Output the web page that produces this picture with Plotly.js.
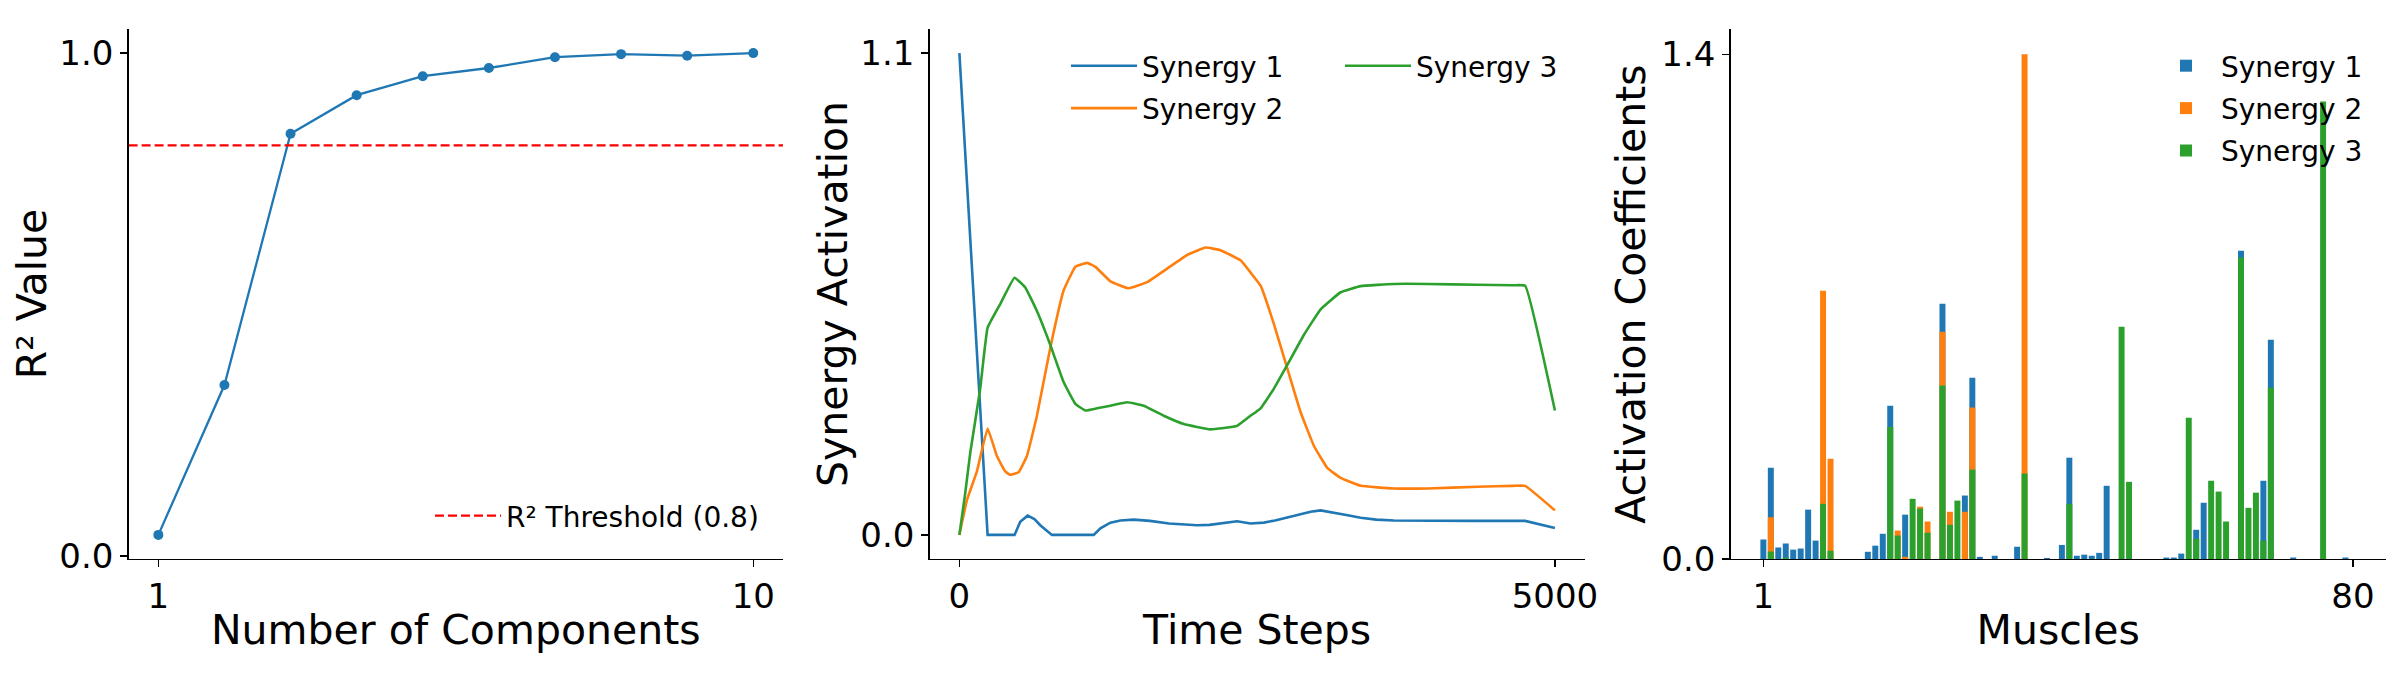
<!DOCTYPE html>
<html><head><meta charset="utf-8">
<script src="https://cdn.plot.ly/plotly-3.0.1.min.js"></script>
<style>html,body{margin:0;padding:0;background:#fff}#chart{width:2400px;height:700px}</style>
</head><body><div id="chart"></div>
<script>
// ---------- Panel 1: R² vs number of components ----------
const components = [1, 2, 3, 4, 5, 6, 7, 8, 9, 10];
const r2Values = [0.041, 0.333, 0.823, 0.898, 0.935, 0.951, 0.972, 0.978, 0.975, 0.980];
const r2Threshold = 0.8;
const thresholdLabel = 'R² Threshold (0.8)';

// ---------- Panel 2: synergy activation over time ----------
const syn1Time = [0, 237, 463, 511, 573, 630, 679, 735, 777, 1128, 1184, 1268, 1352, 1464, 1600, 1760, 1900, 1996, 2100, 2164, 2250, 2332, 2444, 2557, 2650, 2725, 2837, 2949, 3033, 3145, 3260, 3369, 3500, 3649, 3930, 4300, 4750, 5000];
const syn1Value = [1.10, 0, 0, 0.030, 0.044, 0.036, 0.022, 0.010, 0, 0, 0.015, 0.028, 0.033, 0.035, 0.032, 0.026, 0.023, 0.022, 0.023, 0.025, 0.028, 0.031, 0.026, 0.028, 0.033, 0.038, 0.045, 0.053, 0.056, 0.051, 0.045, 0.039, 0.035, 0.033, 0.032, 0.032, 0.032, 0.016];
const syn2Time = [0, 63, 147, 237, 315, 385, 427, 497, 567, 651, 763, 875, 974, 1072, 1142, 1268, 1422, 1576, 1744, 1912, 2066, 2192, 2361, 2473, 2529, 2641, 2753, 2865, 2977, 3089, 3201, 3369, 3649, 3930, 4350, 4650, 4750, 5000];
const syn2Value = [0, 0.079, 0.145, 0.243, 0.180, 0.145, 0.137, 0.143, 0.180, 0.272, 0.427, 0.558, 0.612, 0.621, 0.612, 0.579, 0.563, 0.577, 0.608, 0.639, 0.656, 0.650, 0.627, 0.589, 0.569, 0.481, 0.380, 0.280, 0.203, 0.153, 0.130, 0.112, 0.106, 0.106, 0.110, 0.112, 0.112, 0.056];
const syn3Time = [0, 49, 91, 175, 237, 343, 463, 553, 651, 763, 875, 974, 1058, 1156, 1268, 1408, 1548, 1716, 1884, 2108, 2332, 2444, 2529, 2641, 2753, 2893, 3033, 3201, 3369, 3649, 3930, 4350, 4650, 4750, 5000];
const syn3Value = [0, 0.095, 0.187, 0.334, 0.473, 0.527, 0.587, 0.565, 0.511, 0.434, 0.349, 0.299, 0.284, 0.289, 0.295, 0.303, 0.295, 0.272, 0.253, 0.241, 0.249, 0.272, 0.289, 0.334, 0.388, 0.457, 0.515, 0.554, 0.568, 0.573, 0.573, 0.571, 0.570, 0.569, 0.284];

// ---------- Panel 3: activation coefficients per muscle (overlaid bars) ----------
const muscles = Array.from({length: 80}, (_, i) => i + 1);
const coefSyn1 = [0.054,0.253,0.032,0.043,0.026,0.029,0.137,0.051,0,0,
                  0,0,0,0,0.020,0.037,0.070,0.425,0,0.123,
                  0,0,0,0,0.708,0,0,0.176,0.503,0.006,
                  0,0.009,0,0,0.034,0,0,0,0.003,0,
                  0.039,0.281,0.009,0.012,0.009,0.017,0.203,0,0,0,
                  0,0,0,0,0.004,0.004,0.015,0,0.081,0.156,
                  0,0,0,0,0.855,0,0,0.217,0.608,0,
                  0,0.004,0,0,0,0,0,0,0.004,0];
const coefSyn2 = [0,0.116,0,0,0,0,0,0,0.744,0.278,
                  0,0,0,0,0,0,0,0,0.079,0.006,
                  0,0.145,0.104,0,0.630,0.131,0,0.131,0.420,0,
                  0,0,0,0,0,1.400,0,0,0,0,
                  0,0,0,0,0,0,0,0,0,0,
                  0,0,0,0,0,0,0,0,0,0,
                  0,0,0,0,0,0,0,0,0,0,
                  0,0,0,0,0,0,0,0,0,0];
const coefSyn3 = [0,0.021,0,0.004,0,0,0,0,0.153,0.023,
                  0,0,0,0,0,0,0,0.366,0.065,0,
                  0.167,0.140,0.073,0,0.481,0.095,0.162,0,0.248,0,
                  0,0,0,0,0,0.237,0,0,0,0,
                  0,0.153,0,0,0,0,0,0,0.644,0.214,
                  0,0,0,0,0,0,0,0.392,0.056,0,
                  0.217,0.187,0.104,0,0.836,0.142,0.184,0.051,0.475,0,
                  0,0,0,0,0,1.269,0,0,0,0];
const synergyNames = ['Synergy 1', 'Synergy 2', 'Synergy 3'];
const colors = ['#1f77b4', '#ff7f0e', '#2ca02c'];

// ---------- styling ----------
const FONT = 'DejaVu Sans, Liberation Sans, sans-serif';
const TICK = 34, TITLE = 41, LEG = 28;
const H = 700, W = 2400;
const yDom = [1 - 559 / H, 1 - 29 / H];
const x1Range = [0.55, 10.45];

function baseAxis(extra) {
  return Object.assign({
    showgrid: false, zeroline: false, showline: true, linecolor: '#000', linewidth: 1.4,
    ticks: 'outside', ticklen: 7, tickwidth: 1.4, tickcolor: '#000',
    tickfont: {family: FONT, size: TICK, color: '#000'}, automargin: false, fixedrange: true
  }, extra);
}
const fmt = v => v.toFixed(1);
const maxR2 = Math.max(...r2Values);
const maxAct = Math.max(...syn1Value, ...syn2Value, ...syn3Value);
const maxCoef = Math.max(...coefSyn1, ...coefSyn2, ...coefSyn3);

const traces = [
  {x: components, y: r2Values, type: 'scatter', mode: 'lines+markers', xaxis: 'x', yaxis: 'y',
   line: {color: colors[0], width: 2.3}, marker: {color: colors[0], size: 10}, showlegend: false},
  {x: x1Range, y: [r2Threshold, r2Threshold], type: 'scatter', mode: 'lines', xaxis: 'x', yaxis: 'y',
   name: thresholdLabel, line: {color: '#ff0000', width: 2.2, dash: '9px,4px'}, legend: 'legend'},
  {x: syn1Time, y: syn1Value, type: 'scatter', mode: 'lines', xaxis: 'x2', yaxis: 'y2', name: synergyNames[0],
   line: {color: colors[0], width: 2.6}, legend: 'legend2', legendgroup: 'a'},
  {x: syn2Time, y: syn2Value, type: 'scatter', mode: 'lines', xaxis: 'x2', yaxis: 'y2', name: synergyNames[1],
   line: {color: colors[1], width: 2.6, shape: 'spline', smoothing: 0.3}, legend: 'legend2', legendgroup: 'b'},
  {x: syn3Time, y: syn3Value, type: 'scatter', mode: 'lines', xaxis: 'x2', yaxis: 'y2', name: synergyNames[2],
   line: {color: colors[2], width: 2.6, shape: 'spline', smoothing: 0.3}, legend: 'legend3', legendgroup: 'c'},
  {x: muscles, y: coefSyn1, type: 'bar', xaxis: 'x3', yaxis: 'y3', name: synergyNames[0],
   marker: {color: colors[0], line: {width: 0}}, legend: 'legend4', legendgroup: 'd'},
  {x: muscles, y: coefSyn2, type: 'bar', xaxis: 'x3', yaxis: 'y3', name: synergyNames[1],
   marker: {color: colors[1], line: {width: 0}}, legend: 'legend4', legendgroup: 'e'},
  {x: muscles, y: coefSyn3, type: 'bar', xaxis: 'x3', yaxis: 'y3', name: synergyNames[2],
   marker: {color: colors[2], line: {width: 0}}, legend: 'legend4', legendgroup: 'f'}
];

function legendAt(x, y, gap, iw) {
  return {x: x, y: y, xanchor: 'left', yanchor: 'top', bgcolor: 'rgba(0,0,0,0)', borderwidth: 0,
          font: {family: FONT, size: LEG, color: '#000'}, tracegroupgap: gap, orientation: 'v',
          itemwidth: iw};
}

const layout = {
  width: W, height: H, paper_bgcolor: '#fff', plot_bgcolor: '#fff',
  margin: {l: 0, r: 0, t: 0, b: 0}, font: {family: FONT, color: '#000'},
  barmode: 'overlay', bargap: 0.2,
  xaxis: baseAxis({domain: [128.6 / W, 783 / W], range: x1Range, tickvals: [1, 10], anchor: 'y',
    title: {text: 'Number of Components', font: {family: FONT, size: TITLE}, standoff: 0}}),
  yaxis: baseAxis({domain: yDom, range: [-0.006, 1.027], tickvals: [0, maxR2], ticktext: [fmt(0), fmt(maxR2)], anchor: 'x',
    title: {text: 'R² Value', font: {family: FONT, size: TITLE}, standoff: 0}}),
  xaxis2: baseAxis({domain: [929.6 / W, 1584.7 / W], range: [-250, 5250], tickvals: [0, 5000], anchor: 'y2',
    title: {text: 'Time Steps', font: {family: FONT, size: TITLE}, standoff: 0}}),
  yaxis2: baseAxis({domain: yDom, range: [-0.055, 1.155], tickvals: [0, maxAct], ticktext: [fmt(0), fmt(maxAct)], anchor: 'x2',
    title: {text: 'Synergy Activation', font: {family: FONT, size: TITLE}, standoff: 0}}),
  xaxis3: baseAxis({domain: [1730.6 / W, 2385.7 / W], range: [-3.39, 84.39], tickvals: [1, 80], anchor: 'y3',
    title: {text: 'Muscles', font: {family: FONT, size: TITLE}, standoff: 0}}),
  yaxis3: baseAxis({domain: yDom, range: [0, 1.47], tickvals: [0, maxCoef], ticktext: [fmt(0), fmt(maxCoef)], anchor: 'x3',
    title: {text: 'Activation Coefficients', font: {family: FONT, size: TITLE}, standoff: 3}}),
  legend: legendAt(430 / W, 1 - 491 / H, 0, 66),
  legend2: legendAt(1066 / W, 1 - 41 / H, 3, 66),
  legend3: legendAt(1340 / W, 1 - 41 / H, 3, 66),
  legend4: legendAt(2151 / W, 1 - 41 / H, 3, 60)
};

Plotly.newPlot('chart', traces, layout, {displayModeBar: false, staticPlot: true});
</script>
</body></html>
